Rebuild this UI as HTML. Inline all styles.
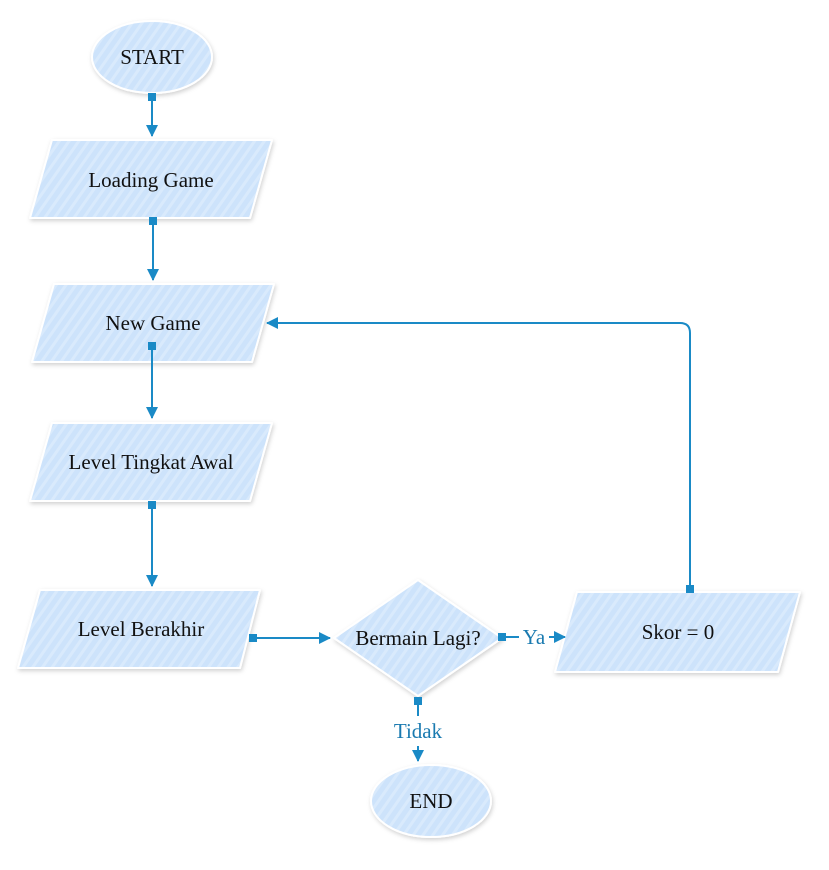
<!DOCTYPE html>
<html><head><style>body{margin:0;background:#fff}svg{display:block}svg text{font-family:'Liberation Serif','Times New Roman',Times,'DejaVu Serif',serif !important}</style></head><body>
<svg width="829" height="870" viewBox="0 0 829 870" xmlns="http://www.w3.org/2000/svg" style="font-family:'Liberation Serif','Times New Roman',Times,serif">
<defs>
<pattern id="st" width="8" height="8" patternUnits="userSpaceOnUse" patternTransform="rotate(35)">
<rect width="8" height="8" fill="#cde3fb"/><rect width="3" height="8" fill="#d9eafc"/></pattern>
<filter id="sh" x="-20%" y="-20%" width="140%" height="140%"><feDropShadow dx="1" dy="2" stdDeviation="2" flood-color="#000" flood-opacity="0.18"/></filter>
<marker id="ar" markerWidth="14" markerHeight="14" refX="11" refY="6" orient="auto" markerUnits="userSpaceOnUse"><path d="M0,0 L12,6 L0,12 Z" fill="#1a8ac6"/></marker>
</defs>
<g fill="url(#st)" stroke="#fff" stroke-width="2" filter="url(#sh)" stroke-linejoin="round">
<ellipse cx="152" cy="57" rx="60" ry="36"/>
<path d="M52,140 L272,140 L250,218 L30,218 Z"/>
<path d="M54,284 L274,284 L252,362 L32,362 Z"/>
<path d="M52,423 L272,423 L250,501 L30,501 Z"/>
<path d="M40,590 L260,590 L240,668 L18,668 Z"/>
<path d="M418,580 L502,638 L418,696 L334,638 Z"/>
<path d="M577,592 L800,592 L778,672 L555,672 Z"/>
<ellipse cx="431" cy="801" rx="60" ry="36"/>
</g>
<g font-size="21" fill="#111" text-anchor="middle">
<text x="152" y="64">START</text>
<text x="151" y="187">Loading Game</text>
<text x="153" y="330">New Game</text>
<text x="151" y="469">Level Tingkat Awal</text>
<text x="141" y="636">Level Berakhir</text>
<text x="418" y="645">Bermain Lagi?</text>
<text x="678" y="639">Skor = 0</text>
<text x="431" y="808">END</text>
</g>
<g stroke="#1a8ac6" stroke-width="2" fill="none">
<line x1="152" y1="97" x2="152" y2="136" marker-end="url(#ar)"/>
<line x1="153" y1="221" x2="153" y2="280" marker-end="url(#ar)"/>
<line x1="152" y1="346" x2="152" y2="418" marker-end="url(#ar)"/>
<line x1="152" y1="505" x2="152" y2="586" marker-end="url(#ar)"/>
<line x1="253" y1="638" x2="330" y2="638" marker-end="url(#ar)"/>
<line x1="502" y1="637" x2="519" y2="637"/>
<line x1="549" y1="637" x2="565" y2="637" marker-end="url(#ar)"/>
<line x1="418" y1="701" x2="418" y2="716"/>
<line x1="418" y1="746" x2="418" y2="761" marker-end="url(#ar)"/>
<path d="M690,589 L690,333 Q690,323 680,323 L267,323" marker-end="url(#ar)"/>
</g>
<g fill="#1a8ac6">
<rect x="148" y="93" width="8" height="8"/>
<rect x="149" y="217" width="8" height="8"/>
<rect x="148" y="342" width="8" height="8"/>
<rect x="148" y="501" width="8" height="8"/>
<rect x="249" y="634" width="8" height="8"/>
<rect x="498" y="633" width="8" height="8"/>
<rect x="414" y="697" width="8" height="8"/>
<rect x="686" y="585" width="8" height="8"/>
</g>
<g font-size="21" fill="#1a7ab0" text-anchor="middle">
<text x="534" y="644">Ya</text>
<text x="418" y="738">Tidak</text>
</g>
</svg>
</body></html>
